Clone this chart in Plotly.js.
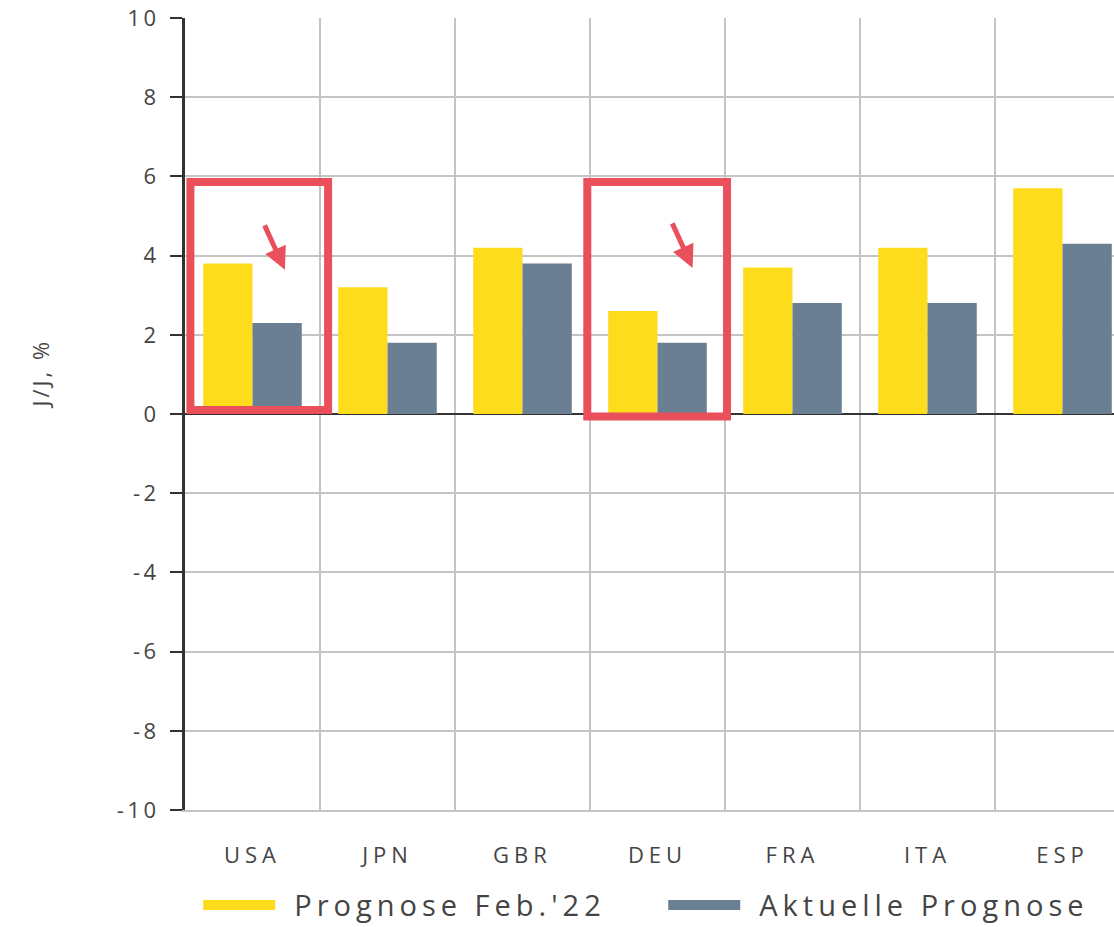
<!DOCTYPE html>
<html><head><meta charset="utf-8">
<script src="https://cdn.plot.ly/plotly-3.0.1.min.js"></script>
<style>
html,body{margin:0;padding:0;overflow:hidden;background:#fff}
.xtick text{letter-spacing:5px}
.ytick text{letter-spacing:3.5px}
.legendtext{letter-spacing:5px;transform:translateX(14px)}
.annotation-text{letter-spacing:3px}
</style>
</head><body>
<div id="chart"></div>
<script>
const categories = ["USA", "JPN", "GBR", "DEU", "FRA", "ITA", "ESP"];
const prognoseFeb22 = [3.8, 3.2, 4.2, 2.6, 3.7, 4.2, 5.7];
const aktuellePrognose = [2.3, 1.8, 3.8, 1.8, 2.8, 2.8, 4.3];
const seriesNames = ["Prognose Feb.'22", "Aktuelle Prognose"];
const yTicks = [-10, -8, -6, -4, -2, 0, 2, 4, 6, 8, 10];

const yellow = "#FDDC1C", blue = "#6B7F93", red = "#E9505C";
const font = "'Open Sans', sans-serif";

const traces = [
  {type: "bar", x: categories, y: prognoseFeb22, name: seriesNames[0], marker: {color: yellow}, showlegend: false, hoverinfo: "y"},
  {type: "bar", x: categories, y: aktuellePrognose, name: seriesNames[1], marker: {color: blue}, showlegend: false, hoverinfo: "y"},
  {type: "scatter", mode: "lines", x: [null], y: [null], name: seriesNames[0], line: {color: yellow, width: 11}},
  {type: "scatter", mode: "lines", x: [null], y: [null], name: seriesNames[1], line: {color: blue, width: 11}}
];

const layout = {
  width: 1140, height: 927,
  margin: {l: 185, r: 10, t: 18, b: 117, autoexpand: false},
  paper_bgcolor: "#fff", plot_bgcolor: "#fff",
  barmode: "group", bargap: 0.27, bargroupgap: 0,
  font: {family: font, color: "#444"},
  xaxis: {
    type: "category", range: [-0.5, 6.5], tickson: "boundaries", automargin: false,
    showgrid: true, gridcolor: "#c4c4c4", gridwidth: 2,
    ticks: "", ticklen: 0, showline: true, linecolor: "#c4c4c4", linewidth: 2,
    tickfont: {size: 22, color: "#444", family: font}, ticklabelstandoff: 25,
    fixedrange: true
  },
  yaxis: {
    range: [-10, 10], tickvals: yTicks, ticktext: yTicks.map(String), automargin: false,
    showgrid: true, gridcolor: "#c4c4c4", gridwidth: 2,
    zeroline: true, zerolinecolor: "#333", zerolinewidth: 2,
    showline: true, linecolor: "#333", linewidth: 3,
    ticks: "outside", ticklen: 12, tickwidth: 2, tickcolor: "#333",
    tickfont: {size: 22, color: "#444", family: font}, ticklabelstandoff: 6,
    fixedrange: true
  },
  legend: {
    orientation: "h", x: 0.014, xanchor: "left", y: -0.12, yanchor: "middle",
    font: {size: 29, color: "#444", family: font}, itemwidth: 72,
    entrywidth: 378,
    bgcolor: "rgba(0,0,0,0)"
  },
  shapes: [
    {type: "rect", xref: "x", yref: "y", x0: -0.46, x1: 0.56, y0: 0.1, y1: 5.86, line: {color: red, width: 8}, fillcolor: "rgba(0,0,0,0)"},
    {type: "rect", xref: "x", yref: "y", x0: 2.48, x1: 3.515, y0: -0.06, y1: 5.86, line: {color: red, width: 8}, fillcolor: "rgba(0,0,0,0)"}
  ],
  annotations: [
    {text: "J/J, %", xref: "paper", yref: "y", x: 0, y: 1, xanchor: "center", yanchor: "middle", xshift: -145, textangle: -90, showarrow: false, font: {size: 22, color: "#444", family: font}},
    {text: "", xref: "x", yref: "y", x: 0.24, y: 3.64, ax: -21, ay: -46, showarrow: true, arrowhead: 2, arrowsize: 0.9, arrowwidth: 5, arrowcolor: red},
    {text: "", xref: "x", yref: "y", x: 3.26, y: 3.69, ax: -21, ay: -46, showarrow: true, arrowhead: 2, arrowsize: 0.9, arrowwidth: 5, arrowcolor: red}
  ]
};

Plotly.newPlot("chart", traces, layout, {displayModeBar: false, staticPlot: true});
</script>
</body></html>
